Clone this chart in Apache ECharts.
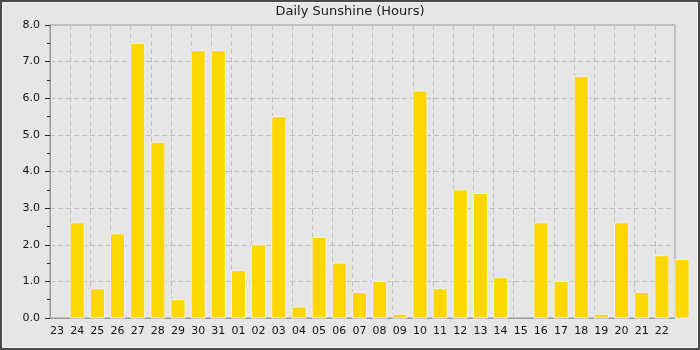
<!DOCTYPE html>
<html>
<head>
<meta charset="utf-8">
<script src="https://cdn.jsdelivr.net/npm/echarts@6/dist/echarts.min.js"></script>
<style>
html,body{margin:0;padding:0;background:#4a4a4a;}
#chart{width:700px;height:350px;}
</style>
</head>
<body>
<div id="chart"></div>
<script>
// Day tick labels (tick i marks the start of that day)
const dayLabels = ['23','24','25','26','27','28','29','30','31','01','02','03','04','05','06','07','08','09','10','11','12','13','14','15','16','17','18','19','20','21','22'];
// Sunshine hours, one bar per tick starting at tick 1 ("24"); the last bar sits at tick 31
const sunshineHours = [2.6,0.8,2.3,7.5,4.8,0.5,7.3,7.3,1.3,2.0,5.5,0.3,2.2,1.5,0.7,1.0,0.1,6.2,0.8,3.5,3.4,1.1,0,2.6,1.0,6.6,0.1,2.6,0.7,1.7,1.6];
const yTicks = [0,1,2,3,4,5,6,7,8];

const barData = sunshineHours.map((v, i) => [i + 1, v]);
const barFrac = 0.7;

const chart = echarts.init(document.getElementById('chart'), null, {renderer: 'canvas'});
const font = 'DejaVu Sans';
const gridLine = {show: true, lineStyle: {color: '#c0c0c0', width: 1, type: [5, 3]}};

chart.setOption({
  animation: false,
  backgroundColor: '#4a4a4a',
  graphic: [{
    type: 'rect', z: -10, silent: true,
    shape: {x: 2.5, y: 2.5, width: 695, height: 345},
    style: {fill: '#e6e6e6', stroke: '#f4f4f4', lineWidth: 1}
  }],
  title: {
    text: 'Daily Sunshine (Hours)', left: 'center', top: 5, padding: 0,
    textStyle: {fontFamily: font, fontSize: 13, fontWeight: 'normal', color: '#1a1a1a'}
  },
  grid: {left: 50, right: 25, top: 25, bottom: 32, show: true, borderColor: '#999', borderWidth: 1, backgroundColor: 'transparent'},
  xAxis: {
    type: 'value', min: 0, max: dayLabels.length, interval: 1,
    axisLine: {show: true, lineStyle: {color: '#999'}},
    axisTick: {show: false},
    axisLabel: {
      show: true, margin: 8, align: 'left', showMaxLabel: false,
      fontFamily: font, fontSize: 11, color: '#111',
      formatter: v => dayLabels[v] !== undefined ? dayLabels[v] : ''
    },
    splitLine: gridLine
  },
  yAxis: {
    type: 'value', min: yTicks[0], max: yTicks[yTicks.length - 1], interval: 1,
    axisLine: {show: true, lineStyle: {color: '#999'}},
    axisTick: {show: true, length: 5, lineStyle: {color: '#222'}},
    minorTick: {show: true, splitNumber: 2, length: 3, lineStyle: {color: '#222'}},
    axisLabel: {margin: 10, fontFamily: font, fontSize: 11, color: '#111', formatter: v => v.toFixed(1)},
    splitLine: gridLine
  },
  series: [{
    type: 'custom',
    clip: false,
    z: 1,
    data: barData,
    renderItem: function (params, api) {
      const x = api.value(0), v = api.value(1);
      if (!v) return null;
      const p1 = api.coord([x, v]);
      const p2 = api.coord([x + barFrac, 0]);
      return {
        type: 'rect',
        shape: {x: p1[0], y: p1[1], width: p2[0] - p1[0], height: p2[1] - p1[1]},
        style: {fill: '#FFD700', stroke: '#e8f2ff', lineWidth: 1}
      };
    }
  }]
});
</script>
</body>
</html>
